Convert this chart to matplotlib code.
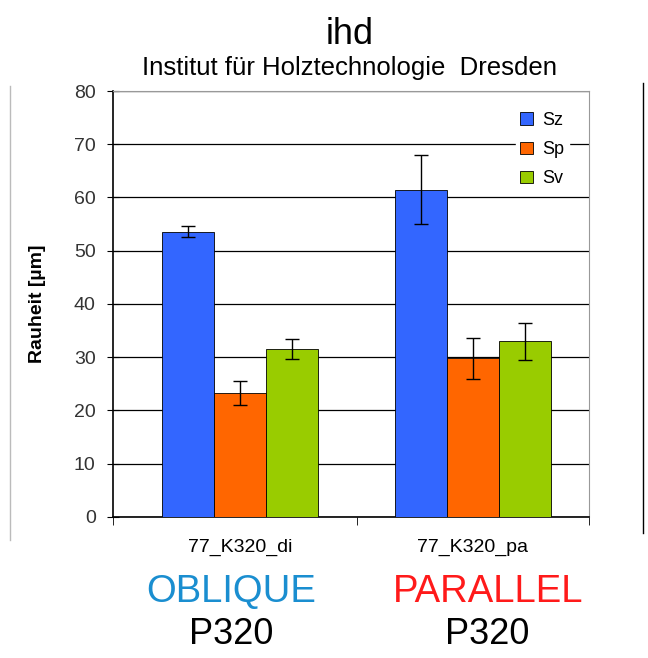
import numpy as np
import matplotlib
matplotlib.use('Agg')
import matplotlib.pyplot as plt
from matplotlib.lines import Line2D

plt.rcParams['font.family'] = ['Liberation Sans', 'DejaVu Sans']

kategorie = ['77_K320_di', '77_K320_pa']
serie = ['Sz', 'Sp', 'Sv']
sz = [53.6, 61.5]
sp = [23.3, 29.8]
sv = [31.6, 33.0]
sz_err = [1.0, 6.4]
sp_err = [2.2, 3.8]
sv_err = [1.9, 3.5]
barvy = ['#3366ff', '#ff6600', '#99cc00']
y_ticks = [0, 10, 20, 30, 40, 50, 60, 70, 80]

fig = plt.figure(figsize=(6.48, 6.58), dpi=100)
ax = fig.add_axes([0.1744, 0.2143, 0.7345, 0.6474])

x = np.arange(len(kategorie))
w = 0.224
hodnoty = [sz, sp, sv]
chyby = [sz_err, sp_err, sv_err]
for i in range(3):
    ax.bar(x + (i - 1) * w, hodnoty[i], w, color=barvy[i], edgecolor='black',
           linewidth=0.6, label=serie[i], zorder=3,
           yerr=chyby[i], capsize=5, error_kw=dict(elinewidth=1, capthick=1, ecolor='black'))

ax.set_xlim(-0.548, 1.5)
ax.set_ylim(0, 80)
ax.set_yticks(y_ticks)
ax.yaxis.grid(True, color='black', linewidth=0.9, zorder=0)
ax.set_xticks(x)
ax.set_xticklabels(kategorie, fontsize=14)
ax.tick_params(axis='x', which='major', length=0, pad=16)
ax.set_xticks([-0.548, 0.5, 1.5], minor=True)
ax.tick_params(axis='x', which='minor', length=6, direction='out')
ax.tick_params(axis='y', direction='inout', length=9, labelsize=14, labelcolor='#333333', pad=8)
ax.set_ylabel('Rauheit [µm]', fontsize=14, fontweight='bold', labelpad=20)

for s in ['top', 'right']:
    ax.spines[s].set_color('#999999')
ax.spines['left'].set_linewidth(1.2)
ax.spines['bottom'].set_linewidth(1.2)

leg = ax.legend(loc='upper right', bbox_to_anchor=(0.958, 0.962), frameon=True,
                fontsize=13, handlelength=0.67, handleheight=0.67, labelspacing=0.68,
                borderpad=0.25, handletextpad=0.55, borderaxespad=0)
leg.get_frame().set_edgecolor('white')
leg.get_frame().set_facecolor('white')
leg.get_frame().set_alpha(1)
leg.set_zorder(5)

fig.add_artist(Line2D([0.016, 0.016], [0.18, 0.87], color='#bbbbbb', linewidth=1))
fig.add_artist(Line2D([0.992, 0.992], [0.19, 0.874], color='black', linewidth=1))

fig.text(0.54, 0.947, 'ihd', ha='center', va='center', fontsize=26)
fig.text(0.54, 0.897, 'Institut für Holztechnologie  Dresden', ha='center', va='center', fontsize=18.5)

fig.text(0.357, 0.1, 'OBLIQUE', ha='center', va='center', fontsize=27.5, color='#1a8ed0')
fig.text(0.357, 0.036, 'P320', ha='center', va='center', fontsize=26, color='black')
fig.text(0.753, 0.1, 'PARALLEL', ha='center', va='center', fontsize=27.5, color='#ff1a1a')
fig.text(0.752, 0.036, 'P320', ha='center', va='center', fontsize=26, color='black')

fig.savefig('out.png', dpi=100)
